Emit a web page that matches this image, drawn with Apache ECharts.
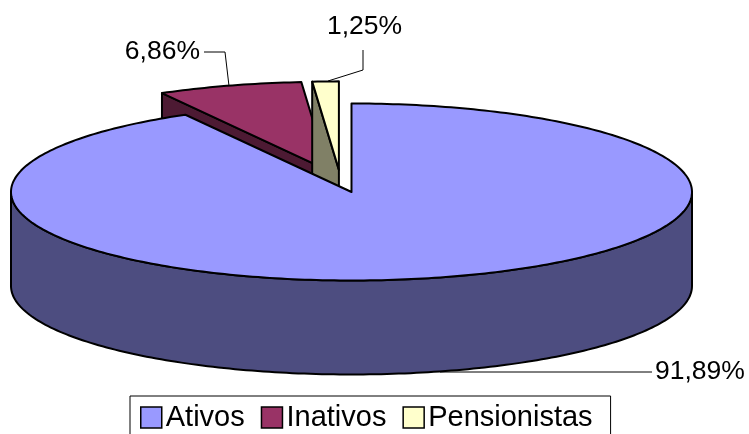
<!DOCTYPE html>
<html>
<head>
<meta charset="utf-8">
<script src="https://cdn.jsdelivr.net/npm/echarts@6/dist/echarts.min.js"></script>
<style>html,body{margin:0;padding:0;background:#fff}#c{width:749px;height:434px}</style>
</head>
<body>
<div id="c"></div>
<script>
// ---- data ----
const categories = ['Ativos', 'Inativos', 'Pensionistas'];
const values = [91.89, 6.86, 1.25];
const topColors = ['#9999FF', '#993366', '#FFFFCC'];
const sideColors = ['#4D4D80', '#4D1A33', '#808066'];

// ---- layout (positions/styles only) ----
const L = { cx0: 340.6, cy0: 181.1, rx: 340.5, ry: 88.5, depth: 94, explode: 0.127 };
const labelLayout = [
  { x: 655, y: 372, align: 'left', leader: [[440, 372], [652, 372]] },
  { x: 200, y: 52, align: 'right', leader: [[204, 52], [225, 52], [229, 86]] },
  { x: 327, y: 27, align: 'left', leader: [[363, 50], [363, 70], [328, 81]] }
];
const FONT = '"Liberation Sans", Arial, sans-serif';

const total = values.reduce((a, b) => a + b, 0);
const starts = [];
let acc = 0;
values.forEach(v => { starts.push(acc / total * 2 * Math.PI); acc += v; });
const ends = values.map((v, i) => starts[i] + v / total * 2 * Math.PI);

function pt(c, th, dy) {
  return [c[0] + L.rx * Math.sin(th), c[1] - L.ry * Math.cos(th) + (dy || 0)];
}
function arc(c, a0, a1, dy) {
  const n = Math.max(2, Math.ceil(Math.abs(a1 - a0) / (Math.PI / 180)));
  const out = [];
  for (let k = 0; k <= n; k++) out.push(pt(c, a0 + (a1 - a0) * k / n, dy));
  return out;
}
const stroke = { stroke: '#000', lineWidth: 2, lineJoin: 'round' };

function makeRender(i) {
  return function (params, api) {
    const a0 = starts[i], a1 = ends[i], mid = (a0 + a1) / 2;
    const c = [L.cx0 + L.rx * Math.sin(mid) * L.explode, L.cy0 - L.ry * Math.cos(mid) * L.explode];
    const cb = [c[0], c[1] + L.depth];
    const side = sideColors[i], top = topColors[i];
    const children = [];
    if (Math.sin(a0) < -1e-6) {
      children.push({ type: 'polygon', shape: { points: [c, pt(c, a0), pt(c, a0, L.depth), cb] }, style: Object.assign({ fill: side }, stroke) });
    }
    if (Math.sin(a1) > 1e-6) {
      children.push({ type: 'polygon', shape: { points: [c, pt(c, a1), pt(c, a1, L.depth), cb] }, style: Object.assign({ fill: side }, stroke) });
    }
    const lo = Math.max(a0, Math.PI / 2), hi = Math.min(a1, 3 * Math.PI / 2);
    if (hi > lo) {
      const pts = arc(c, lo, hi, 0).concat(arc(c, hi, lo, L.depth));
      children.push({ type: 'polygon', shape: { points: pts }, style: Object.assign({ fill: side }, stroke) });
    }
    children.push({ type: 'polygon', shape: { points: [c].concat(arc(c, a0, a1, 0)) }, style: Object.assign({ fill: top }, stroke) });
    const lab = labelLayout[i];
    children.push({ type: 'polyline', shape: { points: lab.leader }, style: { stroke: '#000', lineWidth: 1, fill: null } });
    children.push({
      type: 'text', x: lab.x, y: lab.y,
      style: { text: values[i].toFixed(2).replace('.', ',') + '%', font: '26.5px ' + FONT, fill: '#000', align: lab.align, verticalAlign: 'middle' }
    });
    return { type: 'group', children: children };
  };
}

const order = [1, 2, 0];
const chart = echarts.init(document.getElementById('c'), null, { renderer: 'canvas' });
chart.setOption({
  animation: false,
  backgroundColor: '#fff',
  legend: {
    data: categories,
    left: 130, top: 396,
    orient: 'horizontal',
    icon: 'rect',
    itemWidth: 21, itemHeight: 21, itemGap: 16,
    padding: [7, 18, 12, 10],
    borderColor: '#000', borderWidth: 1,
    itemStyle: { borderColor: '#000', borderWidth: 1.5 },
    textStyle: { fontSize: 29, fontFamily: FONT, color: '#000', padding: [0, 0, 0, -1] }
  },
  series: order.map(i => ({
    type: 'custom',
    name: categories[i],
    coordinateSystem: 'none',
    silent: true,
    itemStyle: { color: topColors[i] },
    data: [values[i]],
    renderItem: makeRender(i)
  }))
});
</script>
</body>
</html>
